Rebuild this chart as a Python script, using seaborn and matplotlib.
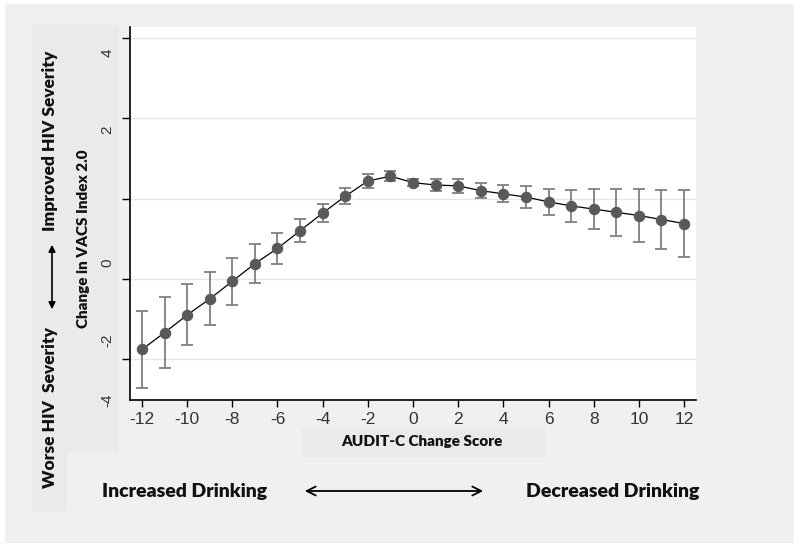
import numpy as np
import pandas as pd
import matplotlib
matplotlib.use('Agg')
import matplotlib.pyplot as plt
from matplotlib.patches import Rectangle, FancyArrowPatch
from matplotlib.ticker import FixedLocator, NullFormatter
import seaborn as sns

# Data
audit_change = [-12, -11, -10, -9, -8, -7, -6, -5, -4, -3, -2, -1,
                0, 1, 2, 3, 4, 5, 6, 7, 8, 9, 10, 11, 12]
vacs_change = [-0.88, -0.67, -0.45, -0.25, -0.03, 0.19, 0.38, 0.60, 0.82, 1.03, 1.22, 1.28,
               1.20, 1.17, 1.16, 1.10, 1.06, 1.02, 0.96, 0.91, 0.87, 0.83, 0.79, 0.74, 0.69]
vacs_err = [0.48, 0.44, 0.38, 0.33, 0.29, 0.245, 0.19, 0.145, 0.115, 0.10, 0.09, 0.065,
            0.04, 0.07, 0.09, 0.093, 0.105, 0.14, 0.16, 0.20, 0.25, 0.29, 0.33, 0.37, 0.42]

x_ticks = list(range(-12, 13, 2))
grid_values = [-1, 0, 1, 2, 3]
y_label_pos = [2.82, 1.86, 0.2, -0.76, -1.51]
y_label_text = ['4', '2', '0', '-2', '-4']

df = pd.DataFrame({'audit': audit_change, 'vacs': vacs_change, 'err': vacs_err})

sns.set_style('white')
plt.rcParams['font.family'] = ['Liberation Sans', 'DejaVu Sans']

fig = plt.figure(figsize=(8, 5.49), dpi=100)
fig.patch.set_facecolor('white')

# background panels (pixel coords -> figure fractions)
W, H = 800, 549
def rect(x0, y0, x1, y1, color):
    fig.patches.append(Rectangle((x0 / W, 1 - y1 / H), (x1 - x0) / W, (y1 - y0) / H,
                                 transform=fig.transFigure, facecolor=color,
                                 edgecolor='none', zorder=-5))

rect(5, 4, 794, 543, '#f0f0f0')
rect(32, 25, 119, 453, '#eaeaea')
rect(32, 453, 67, 511, '#eaeaea')
rect(302, 427, 545, 457, '#eaeaea')

ax = fig.add_axes([130 / W, 1 - 400 / H, (696 - 130) / W, (400 - 27) / H])
ax.set_zorder(2)
ax.set_facecolor('white')

ax.errorbar(df['audit'], df['vacs'], yerr=df['err'], fmt='none',
            ecolor='#808080', elinewidth=1.3, capsize=4, capthick=1.3, zorder=2)
sns.lineplot(data=df, x='audit', y='vacs', ax=ax, color='black', linewidth=0.9,
             marker='o', markersize=7.5, markerfacecolor='#595959',
             markeredgecolor='#595959', zorder=3)

ax.set_xlim(-12.53, 12.53)
ax.set_ylim(-1.51, 3.14)

# grid + ticks
for g in grid_values:
    ax.axhline(g, color='#e6e6e6', linewidth=1, zorder=0)
ax.yaxis.set_major_locator(FixedLocator(grid_values))
ax.yaxis.set_major_formatter(NullFormatter())
ax.yaxis.set_minor_locator(FixedLocator(y_label_pos))
ax.set_yticklabels(y_label_text, minor=True, rotation=90, va='center',
                   fontsize=11, color='#333333')
ax.tick_params(axis='y', which='major', direction='out', length=6, width=1, color='black', left=True)
ax.tick_params(axis='y', which='minor', length=0, pad=11)

ax.set_xticks(x_ticks)
ax.set_xticklabels([str(t) for t in x_ticks], fontsize=12.5, color='#333333')
ax.tick_params(axis='x', direction='out', length=5, width=1, color='black', bottom=True, pad=4)

for s in ['top', 'right']:
    ax.spines[s].set_visible(False)
for s in ['left', 'bottom']:
    ax.spines[s].set_color('black')
    ax.spines[s].set_linewidth(1.2)
ax.set_xlabel('')
ax.set_ylabel('')

bold = dict(family=['Lato', 'DejaVu Sans'], fontweight='heavy', color='#111111')

fig.text(50 / W, 1 - 141 / H, 'Improved HIV Severity', rotation=90,
         ha='center', va='center', fontsize=12.5, **bold)
fig.text(50 / W, 1 - 407 / H, 'Worse HIV  Severity', rotation=90,
         ha='center', va='center', fontsize=12.5, **bold)
fig.text(83 / W, 1 - 239 / H, 'Change in VACS Index 2.0', rotation=90,
         ha='center', va='center', fontsize=11, **bold)
fig.text(422 / W, 1 - 442 / H, 'AUDIT-C Change Score',
         ha='center', va='center', fontsize=11, **bold)
fig.text(185 / W, 1 - 491 / H, 'Increased Drinking',
         ha='center', va='center', fontsize=14, **bold)
fig.text(613 / W, 1 - 491 / H, 'Decreased Drinking',
         ha='center', va='center', fontsize=14, **bold)

# arrows
fig.patches.append(FancyArrowPatch(
    (52 / W, 1 - 242 / H), (52 / W, 1 - 312 / H), transform=fig.transFigure,
    arrowstyle='<|-|>', mutation_scale=10, color='black', linewidth=1.2, zorder=5))
fig.patches.append(FancyArrowPatch(
    (302 / W, 1 - 491 / H), (486 / W, 1 - 491 / H), transform=fig.transFigure,
    arrowstyle='<->', mutation_scale=16, color='black', linewidth=1.3, zorder=5))

plt.savefig('out.png', dpi=100)
